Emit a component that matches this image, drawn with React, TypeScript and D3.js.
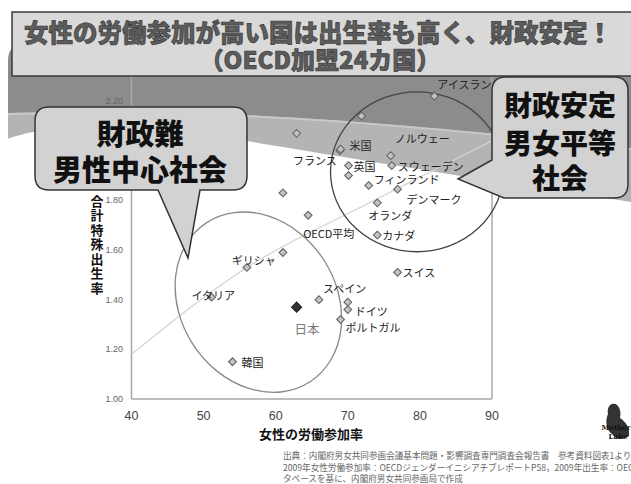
import React from 'react';
import * as d3 from 'd3';

// ---- data ----
const countries = [
  'アイスランド', 'NZ', 'AUS', 'フランス', '米国', 'ノルウェー', '英国', 'スウェーデン', 'IRL',
  'フィンランド', 'デンマーク', 'オランダ', 'カナダ', 'スイス', 'BEL', 'LUX', 'ギリシャ', 'イタリア',
  '日本', 'スペイン', 'AUT', 'ドイツ', 'ポルトガル', '韓国', 'OECD平均',
];
const labelText = [
  'アイスランド', '', '', 'フランス', '米国', 'ノルウェー', '英国', 'スウェーデン', '',
  'フィンランド', 'デンマーク', 'オランダ', 'カナダ', 'スイス', '', '', 'ギリシャ', 'イタリア',
  '日本', 'スペイン', '', 'ドイツ', 'ポルトガル', '韓国', 'OECD平均',
];
const laborRate = [
  82.0, 71.9, 62.9, 68.9, 69.0, 75.95, 70.1, 76.1, 70.1,
  72.9, 76.9, 74.1, 74.1, 76.9, 61.0, 61.0, 56.0, 51.1,
  62.9, 66.0, 70.0, 70.0, 69.0, 54.0, 64.5,
];
const fertility = [
  2.22, 2.14, 2.07, 2.0, 2.006, 1.98, 1.94, 1.94, 1.90,
  1.86, 1.845, 1.79, 1.66, 1.51, 1.83, 1.59, 1.53, 1.41,
  1.37, 1.40, 1.39, 1.36, 1.32, 1.15, 1.74,
];
const xTicks = [40, 50, 60, 70, 80, 90];
const yTicks = [1.0, 1.2, 1.4, 1.6, 1.8, 2.0, 2.2];
const trendX = [40, 56, 73, 90];
const trendY = [1.18, 1.53, 1.79, 2.04];

const titleLine1 = '女性の労働参加が高い国は出生率も高く、財政安定！';
const titleLine2 = '（OECD加盟24カ国）';
const xTitle = '女性の労働参加率';
const yTitle = '合計特殊出生率';
const leftCallout = ['財政難', '男性中心社会'];
const rightCallout = ['財政安定', '男女平等', '社会'];
const footer = [
  '出典：内閣府男女共同参画会議基本問題・影響調査専門調査会報告書　参考資料図表1より',
  '2009年女性労働参加率：OECDジェンダーイニシアチブレポートP58，2009年出生率：OECDデ',
  'タベースを基に、内閣府男女共同参画局で作成',
];

// label placement (layout only)
const labelLayout: Record<string, [number, number, string]> = {
  'アイスランド': [3, -12, 'start'],
  'フランス': [-3, 9, 'end'],
  '米国': [9, -4, 'start'],
  'ノルウェー': [4, -18, 'start'],
  '英国': [5, 0, 'start'],
  'スウェーデン': [6, 0, 'start'],
  'フィンランド': [5, -6, 'start'],
  'デンマーク': [9, 10, 'start'],
  'オランダ': [-9, 12, 'start'],
  'カナダ': [5, 0, 'start'],
  'スイス': [5, 0, 'start'],
  'ギリシャ': [-15, -7, 'start'],
  'イタリア': [-20, -2, 'start'],
  '日本': [-2, 21, 'start'],
  'スペイン': [4, -12, 'start'],
  'ドイツ': [7, 1, 'start'],
  'ポルトガル': [5, 7, 'start'],
  '韓国': [9, 0, 'start'],
  'OECD平均': [-5, 18, 'start'],
};

const FONT = "'Noto Sans CJK JP', 'Noto Sans', sans-serif";

export default function App() {
  const x = d3.scaleLinear().domain([40, 90]).range([131.5, 492]);
  const y = d3.scaleLinear().domain([1.0, 2.3]).range([399, 76.2]);

  const trendPts: [number, number][] = trendX.map((v, i) => [x(v), y(trendY[i])]);
  const trendPath = d3.line().curve(d3.curveMonotoneX)(trendPts) || '';

  const sym = d3.symbol().type(d3.symbolSquare);
  const normalMarker = sym.size(30)() || '';
  const japanMarker = sym.size(50)() || '';

  const rightEllipse = { cx: 79.6, cy: 1.915, rx: 12.0, ry: 0.322 };
  const leftEllipse = { cx: 57.6, cy: 1.39, rx: 10.8, ry: 0.382 };

  return (
    <svg width={631} height={484} style={{ position: 'absolute', left: 0, top: 0, background: '#fff' }}>
      <defs>
        <clipPath id="plotclip">
          <rect x={131.5} y={76} width={360.5} height={323} />
        </clipPath>
      </defs>
      {/* background swoosh */}
      <path d="M8,60 Q8,45 23,45 H631 V230 H8 Z" fill="#8c8c8c" />
      <path d="M8,113 C200,108 360,118 631,148 L631,484 L8,484 Z" fill="#b4b4b4" />
      <path d="M8,114 C200,109 360,119 631,149" fill="none" stroke="#c9c9c9" strokeWidth={2} />
      <path d="M0,142 C40,124 130,118 200,133 C300,150 420,170 631,202 L631,484 L0,484 Z" fill="#ffffff" />

      {/* plot frame */}
      <g stroke="#a8a8a8" strokeWidth={1.5} fill="none">
        <line x1={x(40)} x2={x(40)} y1={76} y2={y(1)} />
        <line x1={x(40)} x2={x(90)} y1={y(1)} y2={y(1)} />
        <line x1={x(90)} x2={x(90)} y1={76} y2={y(1)} />
      </g>

      {/* trend line */}
      <path d={trendPath} fill="none" stroke="#d2d2d2" strokeWidth={1.2} clipPath="url(#plotclip)" />

      {/* ellipses */}
      <ellipse
        cx={x(rightEllipse.cx)} cy={y(rightEllipse.cy)}
        rx={x(40 + rightEllipse.rx) - x(40)} ry={y(1) - y(1 + rightEllipse.ry)}
        fill="none" stroke="#444" strokeWidth={1.3}
      />
      <ellipse
        cx={x(leftEllipse.cx)} cy={y(leftEllipse.cy)}
        rx={x(40 + leftEllipse.rx) - x(40)} ry={y(1) - y(1 + leftEllipse.ry)}
        transform={`rotate(-33 ${x(leftEllipse.cx)} ${y(leftEllipse.cy)})`}
        fill="none" stroke="#888" strokeWidth={1.3}
      />

      {/* y ticks */}
      <g fontFamily="'Liberation Sans', Arial, sans-serif" fontSize={9} fill="#666" textAnchor="end">
        {yTicks.map((t) => (
          <text key={t} x={123} y={y(t)} dominantBaseline="central">{d3.format('.2f')(t)}</text>
        ))}
      </g>
      {/* x ticks */}
      <g fontFamily="'Liberation Sans', Arial, sans-serif" fontSize={12.5} fill="#444" textAnchor="middle">
        {xTicks.map((t) => (
          <text key={t} x={x(t)} y={416} dominantBaseline="central">{t}</text>
        ))}
      </g>

      {/* axis titles */}
      <text x={311} y={433} fontFamily={FONT} fontWeight={700} fontSize={13} textAnchor="middle" dominantBaseline="central" fill="#111">{xTitle}</text>
      <g fontFamily={FONT} fontWeight={700} fontSize={13} textAnchor="middle" fill="#111">
        {Array.from(yTitle).map((c, i) => (
          <text key={i} x={97} y={200 + i * 14.5} dominantBaseline="central">{c}</text>
        ))}
      </g>

      {/* markers */}
      <g>
        {countries.map((c, i) => {
          const isJp = c === '日本';
          return (
            <path
              key={c}
              d={isJp ? japanMarker : normalMarker}
              transform={`translate(${x(laborRate[i])},${y(fertility[i])}) rotate(45)`}
              fill={isJp ? '#333' : '#c4c4c4'}
              stroke={isJp ? '#222' : '#666'}
              strokeWidth={1.1}
            />
          );
        })}
      </g>
      {/* labels */}
      <g fontFamily={FONT} fontSize={11} fill="#222">
        {labelText.map((t, i) => {
          if (!t) return null;
          const [dx, dy, anchor] = labelLayout[t] || [5, 0, 'start'];
          const isJp = t === '日本';
          return (
            <text
              key={i}
              x={x(laborRate[i]) + dx}
              y={y(fertility[i]) + dy}
              textAnchor={anchor as any}
              dominantBaseline="central"
              fill={isJp ? '#777' : '#222'}
              fontSize={isJp ? 12.5 : 11}
            >{t}</text>
          );
        })}
      </g>

      {/* title box */}
      <rect x={12} y={12} width={640} height={64} fill="#d9d9d9" stroke="#3a3a3a" strokeWidth={1.5} />
      <g fontFamily={FONT} fontWeight={900} textAnchor="middle" fill="#5c5c5c" stroke="#333" strokeWidth={0.6}>
        <text x={318} y={31} fontSize={24.5} dominantBaseline="central">{titleLine1}</text>
        <text x={320} y={58} fontSize={24} dominantBaseline="central">{titleLine2}</text>
      </g>

      {/* left callout */}
      <path
        d="M49,107 H233 Q247,107 247,121 V176 Q247,190 233,190 H200 L188,258 L158,190 H49 Q35,190 35,176 V121 Q35,107 49,107 Z"
        fill="#d2d2d2" stroke="#333" strokeWidth={1.5}
      />
      <g fontFamily={FONT} fontWeight={900} textAnchor="middle" fill="#111" fontSize={29}>
        <text x={140} y={132} dominantBaseline="central">{leftCallout[0]}</text>
        <text x={140} y={168} dominantBaseline="central">{leftCallout[1]}</text>
      </g>

      {/* right callout */}
      <path
        d="M506,77 H614 Q628,77 628,91 V184 Q628,198 614,198 H504 L458,179 L492,160 V91 Q492,77 506,77 Z"
        fill="#d2d2d2" stroke="#333" strokeWidth={1.5}
      />
      <g fontFamily={FONT} fontWeight={900} textAnchor="middle" fill="#111" fontSize={28}>
        <text x={560} y={104} dominantBaseline="central">{rightCallout[0]}</text>
        <text x={560} y={142} dominantBaseline="central">{rightCallout[1]}</text>
        <text x={560} y={177} dominantBaseline="central">{rightCallout[2]}</text>
      </g>

      {/* footer */}
      <g fontFamily={FONT} fontSize={8.6} fill="#666">
        {footer.map((f, i) => (
          <text key={i} x={283} y={455 + i * 11.5} dominantBaseline="central">{f}</text>
        ))}
      </g>

      {/* logo */}
      <path d="M612,404 C618,402 622,410 620,418 C626,422 630,428 629,436 C624,440 616,440 612,434 C606,430 605,420 608,414 C607,409 609,405 612,404 Z" fill="#333" />
      <text x={616} y={430} fontFamily="'DejaVu Serif', serif" fontWeight={700} fontSize={7} fill="#111" textAnchor="middle">Mother</text>
      <text x={618} y={439} fontFamily="'DejaVu Serif', serif" fontWeight={700} fontSize={7} fill="#111" textAnchor="middle">Lake</text>
    </svg>
  );
}
